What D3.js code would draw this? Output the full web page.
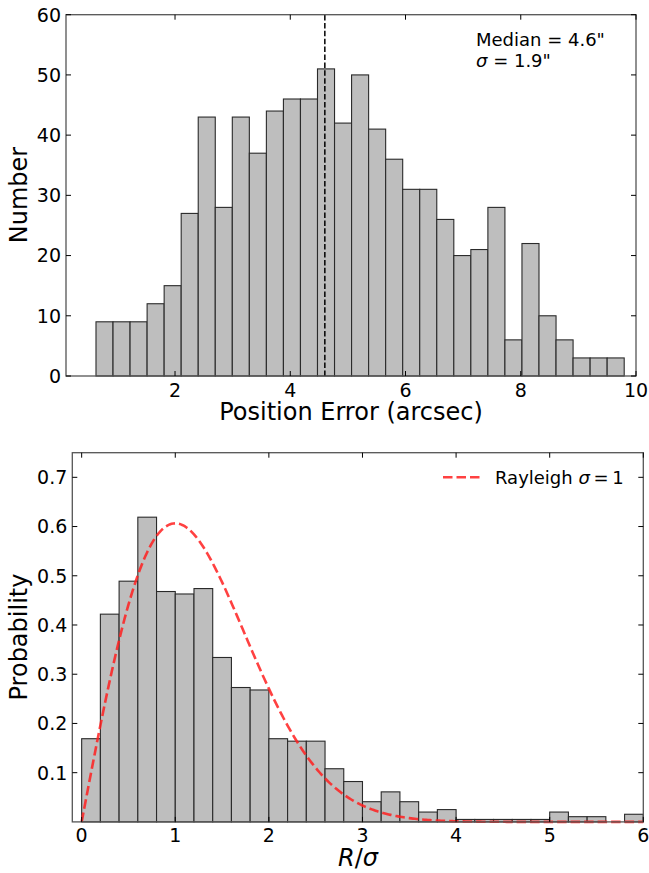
<!DOCTYPE html>
<html><head><meta charset="utf-8">
<script src="https://cdn.jsdelivr.net/npm/d3@7"></script>
<style>
body{margin:0;background:#fff}
text{font-family:"DejaVu Sans",sans-serif;fill:#000}
</style></head>
<body><svg id="c" width="649" height="873"></svg>
<script>
// ---- data: top panel (position error histogram) ----
const posBinStart = 0.6285;
const posBinWidth = 0.2957;
const posCounts = [9,9,9,12,15,27,43,28,43,37,44,46,46,51,42,50,41,36,31,31,26,20,21,28,6,22,10,6,3,3,3];
const posMedian = 4.6;
const posSigma = 1.9;
const posXTicks = [2,4,6,8,10];
const posYTicks = [0,10,20,30,40,50,60];
// ---- data: bottom panel (normalised R/sigma histogram) ----
const normBinStart = 0;
const normBinWidth = 0.2;
const normProb = [0.169,0.422,0.489,0.619,0.468,0.463,0.474,0.334,0.273,0.268,
                  0.169,0.164,0.164,0.108,0.082,0.041,0.061,0.041,0.020,0.025,
                  0.005,0.005,0.005,0.005,0.005,0.020,0.0106,0.0106,0,0.0155];
const normXTicks = [0,1,2,3,4,5,6];
const normYTicks = [0.1,0.2,0.3,0.4,0.5,0.6,0.7];
const rayleighSigma = 1;

const svg = d3.select("#c");
const FRAME = "#555", BAR = "#bebebe", EDGE = "#2a2a2a";
const TICKFS = 19;

function panel(o){
  const g = svg.append("g");
  const x = o.x, y = o.y;
  const [x0,x1] = x.range(), [y0,y1] = y.range(); // y0 bottom
  g.selectAll("rect.bar").data(o.bars).join("rect")
    .attr("x", d => x(d.lo)).attr("width", d => x(d.hi) - x(d.lo))
    .attr("y", d => y(d.v)).attr("height", d => y(0) - y(d.v))
    .attr("fill", BAR).attr("stroke", EDGE).attr("stroke-width", 1.1);
  if (o.extra) o.extra(g);
  g.append("rect").attr("x", x0).attr("y", y1).attr("width", x1 - x0).attr("height", y0 - y1)
    .attr("fill","none").attr("stroke",FRAME).attr("stroke-width",1.3);
  const tl = 5;
  o.xTicks.forEach(t => {
    const px = x(t);
    g.append("line").attr("x1",px).attr("x2",px).attr("y1",y0).attr("y2",y0-tl).attr("stroke","#000").attr("stroke-width",1);
    g.append("line").attr("x1",px).attr("x2",px).attr("y1",y1).attr("y2",y1+tl).attr("stroke","#000").attr("stroke-width",1);
    g.append("text").attr("x",px).attr("y",o.xLabelY).attr("text-anchor","middle")
      .attr("font-size",TICKFS).text(o.xFmt(t));
  });
  o.yTicks.forEach(t => {
    const py = y(t);
    g.append("line").attr("x1",x0).attr("x2",x0+tl).attr("y1",py).attr("y2",py).attr("stroke","#000").attr("stroke-width",1);
    g.append("line").attr("x1",x1).attr("x2",x1-tl).attr("y1",py).attr("y2",py).attr("stroke","#000").attr("stroke-width",1);
    g.append("text").attr("x",x0-5).attr("y",py).attr("dy","0.36em").attr("text-anchor","end")
      .attr("font-size",TICKFS).text(o.yFmt(t));
  });
  return g;
}

// ---- top panel ----
const xTop = d3.scaleLinear().domain([0.108, 10]).range([66, 636]);
const yTop = d3.scaleLinear().domain([0, 60]).range([376, 14.7]);
const topBars = posCounts.map((v,i) => ({lo: posBinStart + i*posBinWidth, hi: posBinStart + (i+1)*posBinWidth, v}));
panel({x:xTop, y:yTop, bars:topBars, xTicks:posXTicks, yTicks:posYTicks,
  xLabelY:396.5, xFmt:d3.format("d"), yFmt:d3.format("d"),
  extra: g => {
    g.append("line").attr("x1",xTop(posMedian)).attr("x2",xTop(posMedian))
      .attr("y1",yTop(0)).attr("y2",yTop(60))
      .attr("stroke","#000").attr("stroke-width",1.5).attr("stroke-dasharray","5.5,2.4");
  }});
svg.append("text").attr("transform","translate(27,195) rotate(-90)").attr("text-anchor","middle")
  .attr("font-size",24).text("Number");
svg.append("text").attr("x",351).attr("y",420).attr("text-anchor","middle")
  .attr("font-size",24).text("Position Error (arcsec)");
svg.append("text").attr("x",476).attr("y",46).attr("font-size",18).text(`Median = ${posMedian}"`);
const sg = svg.append("text").attr("x",476).attr("y",66.5).attr("font-size",18);
sg.append("tspan").attr("font-style","italic").text("σ");
sg.append("tspan").text(` = ${posSigma}"`);

// ---- bottom panel ----
const xBot = d3.scaleLinear().domain([-0.1, 6]).range([72.3, 643.3]);
const yBot = d3.scaleLinear().domain([0, 0.75]).range([821.9, 452.7]);
const botBars = normProb.map((v,i) => ({lo: normBinStart + i*normBinWidth, hi: normBinStart + (i+1)*normBinWidth, v}));
const rayleigh = d3.range(0, 6.0001, 0.02).map(r => [r, r/(rayleighSigma*rayleighSigma)*Math.exp(-r*r/(2*rayleighSigma*rayleighSigma))]);
const RED = "#ff2020";
panel({x:xBot, y:yBot, bars:botBars, xTicks:normXTicks, yTicks:normYTicks,
  xLabelY:842, xFmt:d3.format("d"), yFmt:d3.format(".1f"),
  extra: g => {
    g.append("path").datum(rayleigh)
      .attr("d", d3.line().x(d => xBot(d[0])).y(d => yBot(d[1])))
      .attr("fill","none").attr("stroke",RED).attr("stroke-opacity",0.85)
      .attr("stroke-width",2.6).attr("stroke-dasharray","9.5,4");
    g.append("line").attr("x1",443).attr("x2",480).attr("y1",477.3).attr("y2",477.3)
      .attr("stroke",RED).attr("stroke-opacity",0.85).attr("stroke-width",2.6).attr("stroke-dasharray","9.5,4");
    const lt = g.append("text").attr("x",495).attr("y",483.5).attr("font-size",18);
    lt.append("tspan").text("Rayleigh ");
    lt.append("tspan").attr("font-style","italic").text("σ");
    lt.append("tspan").text(`\u2009=\u2009${rayleighSigma}`);
  }});
svg.append("text").attr("transform","translate(27,637) rotate(-90)").attr("text-anchor","middle")
  .attr("font-size",24).text("Probability");
const rl = svg.append("text").attr("x",358).attr("y",866).attr("text-anchor","middle").attr("font-size",24);
rl.append("tspan").attr("font-style","italic").text("R");
rl.append("tspan").text("/");
rl.append("tspan").attr("font-style","italic").text("σ");
</script></body></html>
